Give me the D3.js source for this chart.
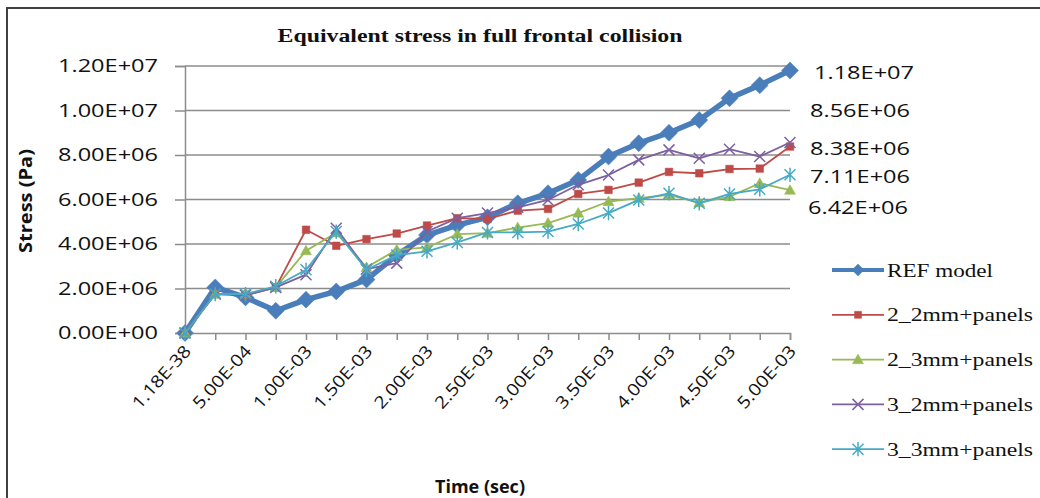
<!DOCTYPE html>
<html>
<head>
<meta charset="utf-8">
<script src="https://cdn.jsdelivr.net/npm/d3@7/dist/d3.min.js"></script>
<style>
  body { margin: 0; background: #fff; }
  svg { display: block; }
</style>
</head>
<body>
<div id="chart"></div>
<script>
// categories (time, s) and tick labels as shown on the axis
var times = ["1.18E-38", "2.50E-04", "5.00E-04", "7.50E-04", "1.00E-03", "1.25E-03", "1.50E-03",
             "1.75E-03", "2.00E-03", "2.25E-03", "2.50E-03", "2.75E-03", "3.00E-03", "3.25E-03",
             "3.50E-03", "3.75E-03", "4.00E-03", "4.25E-03", "4.50E-03", "4.75E-03", "5.00E-03"];
var yTicks = [0, 2e6, 4e6, 6e6, 8e6, 1e7, 1.2e7];

var seriesNames = ["REF model", "2_2mm+panels", "2_3mm+panels", "3_2mm+panels", "3_3mm+panels"];

// stress values (Pa)
var refModel = [0, 2.05e6, 1.6e6, 1.0e6, 1.5e6, 1.87e6, 2.4e6, 3.5e6, 4.4e6, 4.85e6, 5.2e6,
                5.83e6, 6.28e6, 6.88e6, 7.93e6, 8.53e6, 9.0e6, 9.57e6, 1.055e7, 1.114e7, 1.18e7];
var mm22 = [0, 1.75e6, 1.7e6, 2.05e6, 4.64e6, 3.92e6, 4.22e6, 4.47e6, 4.83e6, 5.16e6, 5.13e6,
            5.5e6, 5.58e6, 6.25e6, 6.43e6, 6.76e6, 7.24e6, 7.18e6, 7.37e6, 7.39e6, 8.38e6];
var mm23 = [0, 1.75e6, 1.75e6, 2.05e6, 3.7e6, 4.5e6, 2.95e6, 3.74e6, 3.85e6, 4.44e6, 4.49e6,
            4.74e6, 4.94e6, 5.39e6, 5.91e6, 6.06e6, 6.21e6, 5.86e6, 6.13e6, 6.73e6, 6.42e6];
var mm32 = [0, 1.75e6, 1.7e6, 2.05e6, 2.62e6, 4.71e6, 2.87e6, 3.14e6, 4.56e6, 5.16e6, 5.39e6,
            5.65e6, 5.98e6, 6.66e6, 7.1e6, 7.78e6, 8.23e6, 7.85e6, 8.26e6, 7.93e6, 8.56e6];
var mm33 = [0, 1.75e6, 1.75e6, 2.1e6, 2.84e6, 4.56e6, 2.84e6, 3.5e6, 3.67e6, 4.07e6, 4.52e6,
            4.52e6, 4.56e6, 4.9e6, 5.39e6, 5.98e6, 6.28e6, 5.83e6, 6.25e6, 6.46e6, 7.11e6];

var width = 1040, height = 498;
var plot = {left: 185, right: 790, top: 66, bottom: 333};

var colors = ["#4a7ebb", "#be4b48", "#98b954", "#7d60a0", "#46aac5"];
var markers = ["diamond", "square", "triangle", "cross", "star"];
// nudges of the end-of-line value labels (px from the last point)
var labelNudge = [[24, 2], [20, 2], [18, 18], [20, -32], [20, 2]];

var data = [refModel, mm22, mm23, mm32, mm33];

function sci(v) {
    if (v === 0) return "0.00E+00";
    var e = Math.floor(Math.log10(Math.abs(v)));
    var m = v / Math.pow(10, e);
    if (Math.abs(m) >= 9.995) { m = m / 10; e += 1; }
    var s = Math.abs(e) < 10 ? "0" + Math.abs(e) : "" + Math.abs(e);
    return m.toFixed(2) + "E" + (e < 0 ? "-" : "+") + s;
}

// stretch text to a target width (the source text is wide)
function fit(sel, w) {
    sel.attr("textLength", w).attr("lengthAdjust", "spacingAndGlyphs");
}

function symbolPath(type, r) {
    if (type === "diamond") return "M0," + (-r) + "L" + r + ",0L0," + r + "L" + (-r) + ",0Z";
    if (type === "square") return "M" + (-r) + "," + (-r) + "h" + 2 * r + "v" + 2 * r + "h" + (-2 * r) + "Z";
    if (type === "triangle") return "M0," + (-r) + "L" + r + "," + (r * 0.75) + "L" + (-r) + "," + (r * 0.75) + "Z";
    if (type === "cross") return "M" + (-r) + "," + (-r) + "L" + r + "," + r + "M" + (-r) + "," + r + "L" + r + "," + (-r);
    return "M" + (-r) + "," + (-r) + "L" + r + "," + r + "M" + (-r) + "," + r + "L" + r + "," + (-r) +
           "M0," + (-r * 1.3) + "V" + (r * 1.3);
}

var svg = d3.select("#chart").append("svg")
    .attr("width", width)
    .attr("height", height);

// chart frame
svg.append("rect")
    .attr("x", 7).attr("y", 8)
    .attr("width", 1200).attr("height", 700)
    .attr("fill", "#fff")
    .attr("stroke", "#404040")
    .attr("stroke-width", 2);

var x = d3.scalePoint().domain(times).range([plot.left, plot.right]);
var y = d3.scaleLinear().domain([0, 1.2e7]).range([plot.bottom, plot.top]);

// gridlines
svg.append("g").selectAll("line")
    .data(yTicks.filter(function (d) { return d > 0; }))
    .enter().append("line")
    .attr("x1", plot.left).attr("x2", plot.right)
    .attr("y1", function (d) { return y(d); })
    .attr("y2", function (d) { return y(d); })
    .attr("stroke", "#8c8c8c")
    .attr("stroke-width", 1.5);

// y axis
var gy = svg.append("g")
    .attr("transform", "translate(" + plot.left + ",0)")
    .call(d3.axisLeft(y).tickValues(yTicks).tickFormat(sci).tickSize(10).tickPadding(17));
gy.select(".domain").attr("stroke", "#8c8c8c").attr("stroke-width", 1.5);
gy.selectAll(".tick line").attr("stroke", "#8c8c8c").attr("stroke-width", 1.5);
gy.selectAll(".tick text")
    .attr("font-family", "'Open Sans', sans-serif")
    .attr("font-size", 18)
    .attr("fill", "#111")
    .call(fit, 100);

// x axis: ticks at every category, labels at every other one
var gx = svg.append("g")
    .attr("transform", "translate(0," + plot.bottom + ")")
    .call(d3.axisBottom(x).tickSize(7).tickFormat(function (d, i) { return i % 2 === 0 ? d : ""; }));
gx.select(".domain").attr("stroke", "#8c8c8c").attr("stroke-width", 1.5);
gx.selectAll(".tick line").attr("stroke", "#8c8c8c").attr("stroke-width", 1.5);
gx.selectAll(".tick text")
    .attr("font-family", "'Open Sans', sans-serif")
    .attr("font-size", 17)
    .attr("fill", "#111")
    .attr("text-anchor", "end")
    .attr("y", 0).attr("dy", "0.35em")
    .attr("transform", "translate(2,15) rotate(-48)")
    .filter(function () { return this.textContent !== ""; })
    .call(fit, 78);

// series lines and markers
data.forEach(function (vals, s) {
    var line = d3.line()
        .x(function (d, i) { return x(times[i]); })
        .y(function (d) { return y(d); });
    var g = svg.append("g");
    g.append("path")
        .datum(vals)
        .attr("d", line)
        .attr("fill", "none")
        .attr("stroke", colors[s])
        .attr("stroke-width", s === 0 ? 5.5 : 1.8)
        .attr("stroke-linejoin", "round");
    var r = s === 0 ? 8.5 : (s === 1 ? 3.8 : 5.5);
    var stroked = markers[s] === "cross" || markers[s] === "star";
    g.selectAll("path.mk")
        .data(vals)
        .enter().append("path")
        .attr("class", "mk")
        .attr("transform", function (d, i) { return "translate(" + x(times[i]) + "," + y(d) + ")"; })
        .attr("d", symbolPath(markers[s], r))
        .attr("fill", stroked ? "none" : colors[s])
        .attr("stroke", colors[s])
        .attr("stroke-width", stroked ? 1.5 : 0.5);

    // value label at the end
    var last = vals[vals.length - 1];
    svg.append("text")
        .attr("x", plot.right + labelNudge[s][0])
        .attr("y", y(last) + labelNudge[s][1])
        .attr("dy", "0.35em")
        .attr("font-family", "'Open Sans', sans-serif")
        .attr("font-size", 18)
        .attr("fill", "#111")
        .text(sci(last))
        .call(fit, 100);
});

// title
svg.append("text")
    .attr("x", 480).attr("y", 35)
    .attr("dy", "0.35em")
    .attr("text-anchor", "middle")
    .attr("font-family", "'Liberation Serif', serif")
    .attr("font-weight", "bold")
    .attr("font-size", 19)
    .attr("fill", "#111")
    .text("Equivalent stress in full frontal collision")
    .call(fit, 405);

// axis titles
svg.append("text")
    .attr("transform", "translate(26,201) rotate(-90)")
    .attr("text-anchor", "middle")
    .attr("dy", "0.35em")
    .attr("font-family", "'Open Sans', sans-serif")
    .attr("font-weight", "bold")
    .attr("font-size", 17)
    .attr("fill", "#111")
    .text("Stress (Pa)")
    .call(fit, 104);

svg.append("text")
    .attr("x", 480).attr("y", 487)
    .attr("text-anchor", "middle")
    .attr("dy", "0.35em")
    .attr("font-family", "'Open Sans', sans-serif")
    .attr("font-weight", "bold")
    .attr("font-size", 18)
    .attr("fill", "#111")
    .text("Time (sec)")
    .call(fit, 90);

// legend
var legend = svg.append("g").attr("transform", "translate(832,270)");
seriesNames.forEach(function (name, s) {
    var row = legend.append("g").attr("transform", "translate(0," + (s * 44.8) + ")");
    row.append("line")
        .attr("x1", 0).attr("x2", 52)
        .attr("stroke", colors[s])
        .attr("stroke-width", s === 0 ? 4 : 1.8);
    var stroked = markers[s] === "cross" || markers[s] === "star";
    row.append("path")
        .attr("transform", "translate(26,0)")
        .attr("d", symbolPath(markers[s], s === 0 ? 6 : (s === 1 ? 3.5 : 5.5)))
        .attr("fill", stroked ? "none" : colors[s])
        .attr("stroke", colors[s])
        .attr("stroke-width", stroked ? 1.5 : 0.5);
    row.append("text")
        .attr("x", 55)
        .attr("dy", "0.35em")
        .attr("font-family", "'Liberation Serif', serif")
        .attr("font-size", 19)
        .attr("fill", "#111")
        .text(name)
        .call(fit, s === 0 ? 106 : 146);
});
</script>
</body>
</html>
